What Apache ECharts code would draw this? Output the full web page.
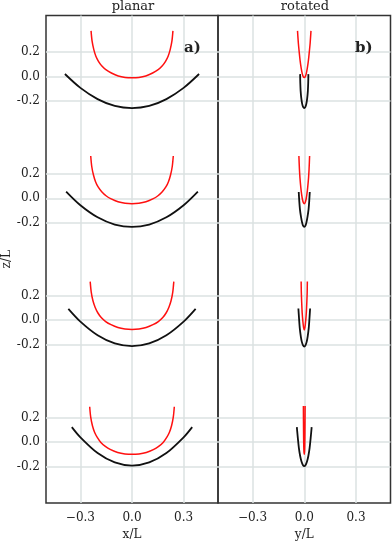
<!DOCTYPE html>
<html>
<head>
<meta charset="utf-8">
<script src="https://cdn.jsdelivr.net/npm/echarts@6/dist/echarts.min.js"></script>
<style>
  html, body { margin: 0; padding: 0; background: #fff; }
  #chart { width: 392px; height: 541px; }
</style>
</head>
<body>
<div id="chart"></div>
<script>
// four configurations stacked top to bottom, each shifted down by one unit of z/L
var groupShift = [0, -1, -2, -3];

// half profiles [|x|, z], bottom point first
var planarBlack = [
  [[0, -0.26], [0.1, -0.242], [0.2, -0.186], [0.3, -0.094], [0.39, 0.02]],
  [[0, -0.235], [0.1, -0.215], [0.2, -0.156], [0.3, -0.057], [0.383, 0.055]],
  [[0, -0.213], [0.1, -0.191], [0.2, -0.124], [0.3, -0.012], [0.37, 0.093]],
  [[0, -0.193], [0.1, -0.167], [0.2, -0.09], [0.3, 0.039], [0.35, 0.123]]
];
var planarRed = [
  [[0, -0.011], [0.04, -0.008], [0.08, 0.004], [0.12, 0.028], [0.15, 0.053], [0.175, 0.085],
   [0.195, 0.124], [0.21, 0.166], [0.222, 0.22], [0.232, 0.289], [0.238, 0.374]],
  [[0, -0.044], [0.04, -0.04], [0.081, -0.028], [0.121, -0.005], [0.151, 0.021], [0.176, 0.054],
   [0.197, 0.093], [0.212, 0.136], [0.224, 0.191], [0.234, 0.261], [0.24, 0.347]],
  [[0, -0.076], [0.041, -0.072], [0.082, -0.06], [0.122, -0.037], [0.153, -0.011], [0.179, 0.022],
   [0.199, 0.061], [0.214, 0.104], [0.227, 0.159], [0.237, 0.23], [0.243, 0.316]],
  [[0, -0.101], [0.041, -0.097], [0.083, -0.085], [0.124, -0.062], [0.155, -0.036], [0.181, -0.003],
   [0.201, 0.036], [0.217, 0.079], [0.23, 0.134], [0.24, 0.204], [0.246, 0.29]]
];
var rotatedBlack = [
  [[0, -0.26], [0.006, -0.252], [0.012, -0.225], [0.017, -0.18], [0.021, -0.118], [0.023, -0.05], [0.024, 0.019]],
  [[0, -0.235], [0.007, -0.225], [0.013, -0.195], [0.019, -0.15], [0.025, -0.09], [0.029, -0.02], [0.032, 0.052]],
  [[0, -0.216], [0.007, -0.206], [0.014, -0.178], [0.02, -0.132], [0.026, -0.065], [0.03, 0.01], [0.034, 0.096]],
  [[0, -0.197], [0.008, -0.188], [0.016, -0.16], [0.024, -0.112], [0.031, -0.05], [0.037, 0.03], [0.043, 0.123]]
];
var rotatedRed = [
  [[0, -0.008], [0.006, -0.001], [0.012, 0.025], [0.018, 0.07], [0.024, 0.13], [0.029, 0.197], [0.034, 0.27], [0.039, 0.374]],
  [[0, -0.044], [0.005, -0.036], [0.01, -0.012], [0.015, 0.03], [0.02, 0.09], [0.025, 0.17], [0.028, 0.24], [0.031, 0.347]],
  [[0, -0.08], [0.004, -0.06], [0.008, -0.01], [0.012, 0.06], [0.015, 0.15], [0.017, 0.23], [0.018, 0.318]],
  [[0, -0.1], [0.002, -0.07], [0.003, -0.02], [0.004, 0.08], [0.005, 0.295]]
];

var xTicks = [-0.3, 0, 0.3];
var zTicks = [0.2, 0, -0.2];
var panelTitles = ['planar', 'rotated'];
var panelTags = ['a', 'b'];

var serif = 'DejaVu Serif';
var gridColor = '#dbe2e2';

// mirror a half profile into a full curve, then shift it into its slot
function fullCurve(half, shift) {
  var pts = [];
  for (var i = half.length - 1; i > 0; i--) pts.push([-half[i][0], half[i][1] + shift]);
  for (var j = 0; j < half.length; j++) pts.push([half[j][0], half[j][1] + shift]);
  return pts;
}

var yTickValues = [];
groupShift.forEach(function (s) {
  zTicks.forEach(function (t) { yTickValues.push(+(t + s).toFixed(3)); });
});

var chart = echarts.init(document.getElementById('chart'));

var grids = [
  {left: 46, right: 174, top: 15.5, bottom: 38},
  {left: 218, right: 1.5, top: 15.5, bottom: 38}
];

var xAxes = [], yAxes = [], series = [];
[0, 1].forEach(function (p) {
  xAxes.push({
    type: 'value', gridIndex: p, min: -0.5, max: 0.5,
    name: p === 0 ? 'x/L' : 'y/L', nameLocation: 'middle', nameGap: 26,
    nameTextStyle: {fontFamily: serif, fontSize: 12, color: '#222'},
    axisLine: {show: false},
    axisTick: {show: false, customValues: xTicks},
    axisLabel: {
      customValues: xTicks, margin: 9, fontFamily: serif, fontSize: 12, color: '#222',
      formatter: function (v) { return v < 0 ? '\u2212' + Math.abs(v).toFixed(1) : v.toFixed(1); }
    },
    splitLine: {show: true, lineStyle: {color: gridColor, width: 1.5}}
  });
  yAxes.push({
    type: 'value', gridIndex: p, min: -3.5, max: 0.5,
    name: p === 0 ? 'z/L' : '', nameLocation: 'middle', nameGap: 33,
    nameTextStyle: {fontFamily: serif, fontSize: 12, color: '#222'},
    axisLine: {show: false},
    axisTick: {show: false, customValues: yTickValues},
    axisLabel: {
      show: p === 0, customValues: yTickValues, margin: 6,
      fontFamily: serif, fontSize: 12, color: '#222',
      formatter: function (v) {
        var r = v - Math.round(v);
        if (Math.abs(r) < 1e-6) return '0.0';
        return r.toFixed(1);
      }
    },
    splitLine: {show: true, lineStyle: {color: gridColor, width: 1.5}}
  });

  var blacks = p === 0 ? planarBlack : rotatedBlack;
  var reds = p === 0 ? planarRed : rotatedRed;
  groupShift.forEach(function (s, g) {
    series.push({
      type: 'line', xAxisIndex: p, yAxisIndex: p, smooth: 0.3, symbol: 'none',
      data: fullCurve(blacks[g], s), lineStyle: {color: '#111', width: 1.8}, silent: true
    });
    series.push({
      type: 'line', xAxisIndex: p, yAxisIndex: p, smooth: 0.3, symbol: 'none',
      data: fullCurve(reds[g], s), lineStyle: {color: '#ff1010', width: 1.5}, silent: true
    });
  });
});

var tagStyle = {rich: {
  b: {fontFamily: serif, fontSize: 15, fontWeight: 'bold', color: '#222'},
  n: {fontFamily: serif, fontSize: 15, color: '#222'}
}};

chart.setOption({
  animation: false,
  grid: grids.map(function (g) {
    return Object.assign({show: true, borderColor: '#333', borderWidth: 1.5,
      backgroundColor: 'transparent', outerBoundsMode: 'none'}, g);
  }),
  title: [
    {text: panelTitles[0], left: 133, top: 0, padding: 0, textAlign: 'center',
     textStyle: {fontFamily: serif, fontSize: 13, fontWeight: 'normal', color: '#222'}},
    {text: panelTitles[1], left: 305, top: 0, padding: 0, textAlign: 'center',
     textStyle: {fontFamily: serif, fontSize: 13, fontWeight: 'normal', color: '#222'}},
    {text: '{b|' + panelTags[0] + '}{n|)}', left: 184, top: 41, padding: 0, textStyle: tagStyle},
    {text: '{b|' + panelTags[1] + '}{n|)}', left: 355, top: 41, padding: 0, textStyle: tagStyle}
  ],
  xAxis: xAxes,
  yAxis: yAxes,
  series: series
});
</script>
</body>
</html>
